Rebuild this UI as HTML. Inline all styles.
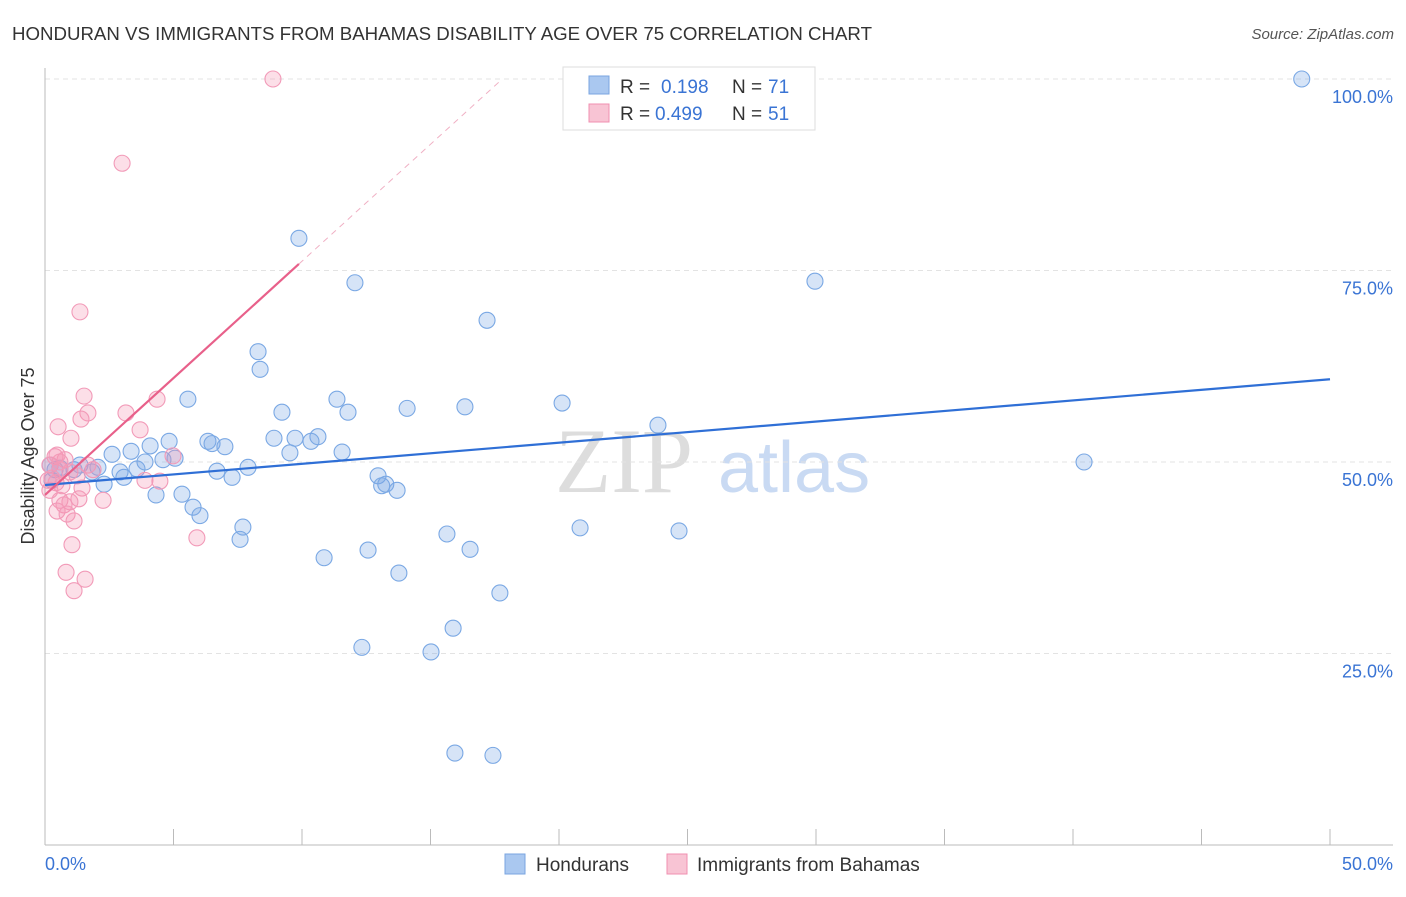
<!DOCTYPE html>
<html><head><meta charset="utf-8"><style>
body{margin:0;background:#fff;font-family:"Liberation Sans",sans-serif;}
</style></head><body>
<svg id="c" width="1406" height="892" xmlns="http://www.w3.org/2000/svg">
<text x="12" y="40" font-size="18" fill="#333" textLength="860" lengthAdjust="spacingAndGlyphs">HONDURAN VS IMMIGRANTS FROM BAHAMAS DISABILITY AGE OVER 75 CORRELATION CHART</text>
<text x="1394" y="39" font-size="15" fill="#555" font-style="italic" text-anchor="end">Source: ZipAtlas.com</text>
<text x="555" y="492" font-size="92" font-family="Liberation Serif,serif" fill="#ddd">ZIP</text>
<text x="718" y="492" font-size="72" fill="#c9daf3">atlas</text>
<text transform="translate(34,456) rotate(-90)" font-size="18" fill="#333" text-anchor="middle">Disability Age Over 75</text>
<g id="grid"></g><g id="marks"></g>
<g>
<rect x="563" y="67" width="252" height="63" fill="#fff" stroke="#ddd"/>
<rect x="589" y="76" width="20" height="18" fill="#aac8f0" stroke="#7aa5e0"/>
<rect x="589" y="104" width="20" height="18" fill="#f8c4d4" stroke="#f08fb0"/>
<text x="620" y="93" font-size="19" fill="#333">R =</text><text x="661" y="93" font-size="19" fill="#3a74d4">0.198</text>
<text x="732" y="93" font-size="19" fill="#333">N =</text><text x="768" y="93" font-size="19" fill="#3a74d4">71</text>
<text x="620" y="120" font-size="19" fill="#333">R =</text><text x="655" y="120" font-size="19" fill="#3a74d4">0.499</text>
<text x="732" y="120" font-size="19" fill="#333">N =</text><text x="768" y="120" font-size="19" fill="#3a74d4">51</text>
</g>
<g>
<rect x="505" y="854" width="20" height="20" fill="#aac8f0" stroke="#7aa5e0"/>
<text x="536" y="871" font-size="19" fill="#333">Hondurans</text>
<rect x="667" y="854" width="20" height="20" fill="#f8c4d4" stroke="#f08fb0"/>
<text x="697" y="871" font-size="19" fill="#333">Immigrants from Bahamas</text>
</g>
</svg>
<script>
const blueX=[48.9,9.88,12.06,29.96,17.2,8.29,8.37,5.56,11.36,9.22,11.79,14.09,16.34,20.12,23.85,8.91,9.73,10.62,10.35,9.53,11.56,6.34,6.5,7.0,4.83,4.09,3.35,2.61,3.89,4.59,5.06,7.9,6.69,7.28,3.58,2.92,3.07,2.06,1.83,2.3,1.13,1.36,0.58,0.39,12.96,13.1,13.26,13.7,4.32,5.33,5.76,6.03,7.7,7.59,15.64,20.82,24.67,16.54,12.57,10.86,13.77,17.7,15.88,12.33,15.02,15.95,17.43,40.43,0.2,0.27];
const blueY=[100,79.2,73.4,73.6,68.5,64.4,62.1,58.2,58.2,56.5,56.5,57.0,57.2,57.7,54.8,53.1,53.1,53.3,52.7,51.2,51.3,52.7,52.4,52.0,52.7,52.1,51.4,51.0,50.0,50.3,50.5,49.3,48.8,48.0,49.1,48.7,48.0,49.3,48.7,47.1,49.0,49.6,49.2,49.0,48.2,46.9,47.1,46.3,45.7,45.8,44.1,43.0,41.5,39.9,40.6,41.4,41.0,38.6,38.5,37.5,35.5,32.9,28.3,25.8,25.2,12.0,11.7,50.0,49.6,47.6];
const pinkX=[8.87,3.0,1.36,1.52,4.36,1.67,3.15,1.4,0.51,3.7,1.01,4.98,0.39,0.78,1.67,0.19,0.58,0.97,1.25,0.12,0.43,0.66,3.89,4.47,1.44,0.19,0.27,0.58,1.32,2.26,0.97,0.74,0.47,0.86,1.13,5.91,1.05,0.82,1.56,1.13,0.58,1.87,0.47];
const pinkY=[100,89.0,69.6,58.6,58.2,56.4,56.4,55.6,54.6,54.2,53.1,50.8,50.7,50.3,49.6,49.6,49.0,48.7,48.2,47.6,47.3,46.9,47.6,47.5,46.6,46.3,47.9,45.0,45.2,45.0,44.8,44.4,43.6,43.2,42.3,40.1,39.2,35.6,34.7,33.2,50.0,49.0,50.9];
const blueTrend=[47.0,60.8];
const pinkTrend=[45.7,75.85];
const pinkTrendEndX=9.88;
const yTicks=[25,50,75,100];
const yTickLabels=["25.0%","50.0%","75.0%","100.0%"];
const xTicks=[0,5,10,15,20,25,30,35,40,45,50];
const NS="http://www.w3.org/2000/svg";
const X=v=>45+v*1285/50, Y=v=>845-v*7.66;
function mk(t,a,p){const e=document.createElementNS(NS,t);for(const k in a)e.setAttribute(k,a[k]);p.appendChild(e);return e;}
const g=document.getElementById('grid'), m=document.getElementById('marks');
yTicks.forEach((t,i)=>{
 const l=mk('line',{x1:45,x2:1393,y1:Y(t),y2:Y(t),stroke:'#e3e3e3','stroke-dasharray':'5,4'},g);
 
 
 const tx=mk('text',{x:1393,y:Y(t)+24,'font-size':18,fill:'#3a74d4','text-anchor':'end'},g);
 tx.textContent=yTickLabels[i];
 
 
});
mk('line',{x1:45,x2:45,y1:68,y2:845,stroke:'#bbb'},g);
mk('line',{x1:45,x2:1393,y1:845,y2:845,stroke:'#bbb'},g);
xTicks.forEach(t=>{const l=mk('line',{x1:X(t),x2:X(t),y1:829,y2:845,stroke:'#bbb'},g);
 
 });
const x0=mk('text',{x:45,y:870,'font-size':18,fill:'#3a74d4'},g);x0.textContent='0.0%';


const x1=mk('text',{x:1393,y:870,'font-size':18,fill:'#3a74d4','text-anchor':'end'},g);x1.textContent='50.0%';


blueX.forEach((v,i)=>{const c=mk('circle',{cx:X(v),cy:Y(blueY[i]),r:8,fill:'rgba(120,165,230,0.3)',stroke:'#7aa8e4','stroke-width':1.1},m);
 
 });
pinkX.forEach((v,i)=>{const c=mk('circle',{cx:X(v),cy:Y(pinkY[i]),r:8,fill:'rgba(245,150,180,0.3)',stroke:'#f29ab8','stroke-width':1.1},m);
 
 });
const bl=mk('line',{x1:X(0),y1:Y(blueTrend[0]),x2:X(50),y2:Y(blueTrend[1]),stroke:'#2f6fd6','stroke-width':2.2},m);


const slope=(pinkTrend[1]-pinkTrend[0])/pinkTrendEndX;
const pl=mk('line',{x1:X(0),y1:Y(pinkTrend[0]),x2:X(pinkTrendEndX),y2:Y(pinkTrend[1]),stroke:'#e8608a','stroke-width':2.2},m);


const xe=(100-pinkTrend[0])/slope;
const pd=mk('line',{x1:X(pinkTrendEndX),y1:Y(pinkTrend[1]),x2:X(xe),y2:Y(100),stroke:'#f0b0c4','stroke-width':1,'stroke-dasharray':'6,5'},m);


</script>
</body></html>
